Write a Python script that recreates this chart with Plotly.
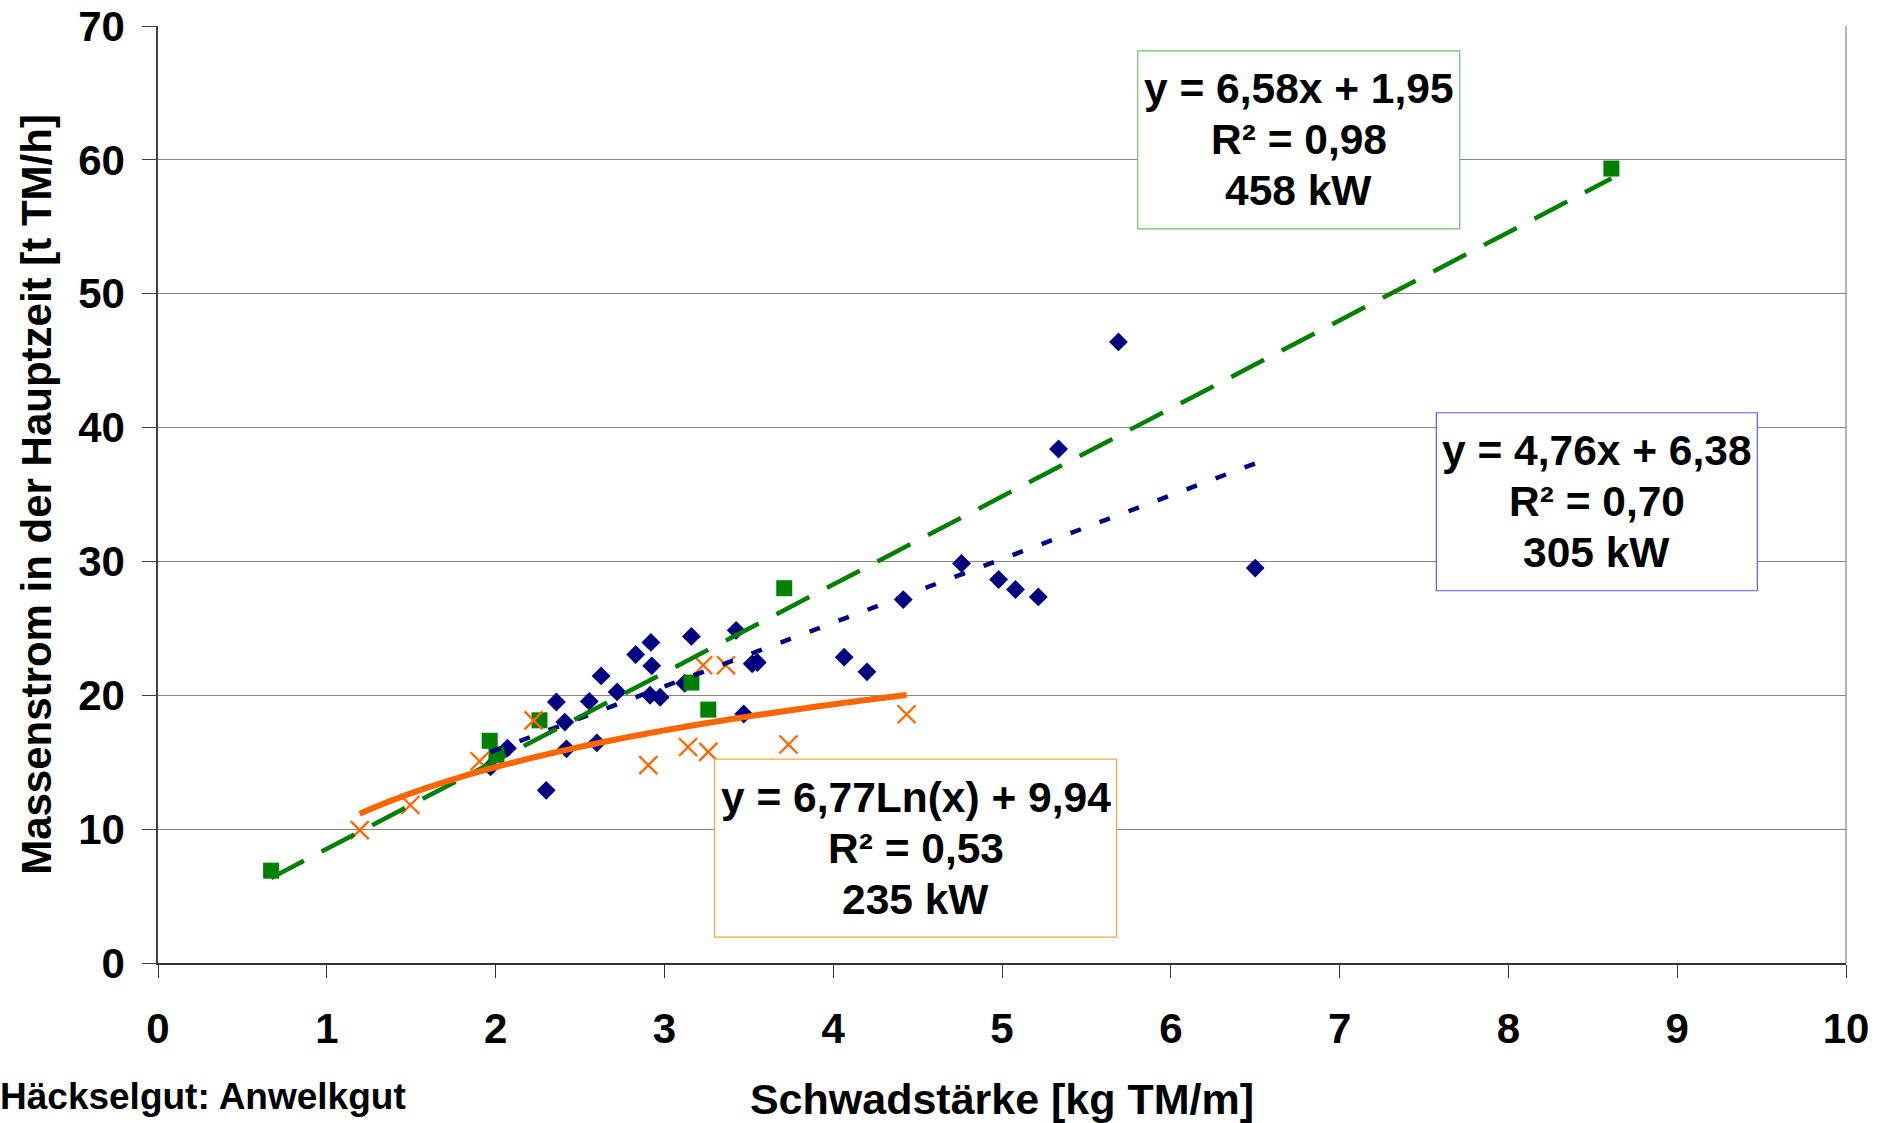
import numpy as np
import plotly.graph_objects as go

# Schwadstärke [kg TM/m] und Massenstrom [t TM/h] je Häcksler-Leistungsklasse
x_305 = [1.97, 2.07, 2.30, 2.36, 2.41, 2.42, 2.555, 2.60, 2.625, 2.72,
         2.83, 2.92, 2.925, 2.915, 2.975, 3.12, 3.16, 3.425, 3.47, 3.52,
         3.55, 4.065, 4.20, 4.415, 4.76, 4.98, 5.08, 5.215, 5.335, 5.69, 6.50]
y_305 = [14.65, 16.05, 12.9, 19.5, 18.0, 16.0, 19.55, 16.45, 21.45, 20.25,
         23.05, 23.95, 22.2, 20.0, 19.85, 20.9, 24.4, 24.85, 18.6, 22.35,
         22.45, 22.85, 21.75, 27.15, 29.85, 28.65, 27.9, 27.35, 38.4, 46.4, 29.5]

x_458 = [0.67, 1.965, 2.005, 2.26, 3.16, 3.26, 3.71, 8.61]
y_458 = [6.9, 16.6, 15.55, 18.13, 20.95, 18.93, 28.0, 59.35]

x_235 = [1.195, 1.495, 1.905, 2.225, 2.905, 3.14, 3.26, 3.23, 3.365, 3.735, 4.435]
y_235 = [9.93, 11.8, 15.07, 18.13, 14.78, 16.14, 15.77, 22.24, 22.24, 16.32, 18.58]

# Trendlinien (Koeffizienten wie in den Beschriftungen)
fit_458 = (6.58, 1.95, 0.98)   # linear
fit_305 = (4.76, 6.38, 0.70)   # linear
fit_235 = (6.77, 9.94, 0.53)   # logarithmisch

x_ticks = list(range(0, 11))
y_ticks = list(range(0, 71, 10))

FONT = "Liberation Sans, Arial, sans-serif"
NAVY = "#000080"
GREEN = "#008000"
ORANGE = "#FF6600"
GRID = "#868686"

W, H = 1893, 1123
M = dict(l=158, r=47, t=26, b=160)
X_RANGE = (0, 10)
Y_RANGE = (0, 70)
PX_X = (W - M["l"] - M["r"]) / (X_RANGE[1] - X_RANGE[0])
PX_Y = (H - M["t"] - M["b"]) / (Y_RANGE[1] - Y_RANGE[0])


def de(v):
    return f"{v:.2f}".replace(".", ",")


fig = go.Figure()

# Messpunkte
fig.add_trace(go.Scatter(
    x=x_305, y=y_305, mode="markers", name="305 kW",
    marker=dict(symbol="diamond", size=14.5, color=NAVY, line=dict(width=0)),
))
fig.add_trace(go.Scatter(
    x=x_458, y=y_458, mode="markers", name="458 kW",
    marker=dict(symbol="square", size=16, color=GREEN, line=dict(width=0)),
))
fig.add_trace(go.Scatter(
    x=x_235, y=y_235, mode="markers", name="235 kW",
    marker=dict(symbol="x-thin-open", size=18, color=ORANGE,
                line=dict(width=2.3, color=ORANGE)),
))

# Trendlinien über den Wertebereich der jeweiligen Reihe
tx = np.linspace(min(x_305), max(x_305), 50)
fig.add_trace(go.Scatter(
    x=tx, y=fit_305[0] * tx + fit_305[1], mode="lines",
    line=dict(color=NAVY, width=4.5, dash="11px,20px"),
))
tx = np.linspace(min(x_458), max(x_458), 50)
fig.add_trace(go.Scatter(
    x=tx, y=fit_458[0] * tx + fit_458[1], mode="lines",
    line=dict(color=GREEN, width=4.5, dash="37px,20px"),
))
tx = np.linspace(min(x_235), max(x_235), 80)
fig.add_trace(go.Scatter(
    x=tx, y=fit_235[0] * np.log(tx) + fit_235[1], mode="lines",
    line=dict(color=ORANGE, width=6, shape="spline"),
))

# Beschriftungsfelder der Trendlinien: Mitte (Datenkoordinaten), Größe in px
box_font = dict(family=FONT, size=42.5, color="black")
LINE_GAP = 51
labels = [
    ([f"y = {de(fit_458[0])}x + {de(fit_458[1])}", f"R² = {de(fit_458[2])}", "458 kW"],
     6.758, 61.49, 322, 178, "#6DBF6D"),
    ([f"y = {de(fit_305[0])}x + {de(fit_305[1])}", f"R² = {de(fit_305[2])}", "305 kW"],
     8.524, 34.46, 321, 178, "#5A5AFF"),
    ([f"y = {de(fit_235[0])}Ln(x) + {de(fit_235[1])}", f"R² = {de(fit_235[2])}", "235 kW"],
     4.488, 8.58, 402, 178, "#FFA533"),
]
annotations = []
shapes = [dict(type="line", xref="paper", yref="paper", x0=1, x1=1, y0=0, y1=1,
               line=dict(color=GRID, width=1.2))]
for lines, cx, cy, bw, bh, bc in labels:
    shapes.append(dict(
        type="rect", xref="x", yref="y", layer="above",
        x0=cx - bw / 2 / PX_X, x1=cx + bw / 2 / PX_X,
        y0=cy - bh / 2 / PX_Y, y1=cy + bh / 2 / PX_Y,
        fillcolor="white", line=dict(color=bc, width=1.2),
    ))
    for i, line in enumerate(lines):
        annotations.append(dict(
            text=f"<b>{line}</b>", x=cx, y=cy, xref="x", yref="y",
            yshift=(1 - i) * LINE_GAP,
            xanchor="center", yanchor="middle", showarrow=False,
            font=box_font, align="center",
        ))
annotations.append(dict(
    text="<b>Häckselgut: Anwelkgut</b>", xref="paper", yref="paper",
    x=-0.0945, y=-0.143, xanchor="left", yanchor="middle", showarrow=False,
    font=dict(family=FONT, size=37, color="black"),
))

fig.update_layout(
    width=W, height=H,
    margin=M,
    paper_bgcolor="white", plot_bgcolor="white",
    showlegend=False,
    font=dict(family=FONT, color="black"),
    annotations=annotations,
    shapes=shapes,
)
fig.update_xaxes(
    range=list(X_RANGE), tickvals=x_ticks, ticktext=[f"<b>{v}</b>" for v in x_ticks],
    automargin=False,
    showgrid=False, zeroline=False, showline=True, linecolor="#333333", linewidth=2,
    ticks="outside", ticklen=13, tickcolor="#333333", tickwidth=1.2,
    tickfont=dict(family=FONT, size=42, color="black"), ticklabelstandoff=15,
    title=dict(text="<b>Schwadstärke [kg TM/m]</b>", standoff=35,
               font=dict(family=FONT, size=43, color="black")),
)
fig.update_yaxes(
    range=list(Y_RANGE), tickvals=y_ticks, ticktext=[f"<b>{v}</b>" for v in y_ticks],
    automargin=False,
    showgrid=True, gridcolor=GRID, gridwidth=1.2, zeroline=False,
    showline=True, linecolor="#404040", linewidth=1.5,
    ticks="outside", ticklen=14, tickcolor="#404040", tickwidth=1.2,
    tickfont=dict(family=FONT, size=42, color="black"), ticklabelstandoff=9,
    title=dict(text="<b>Massenstrom in der Hauptzeit [t TM/h]</b>", standoff=13,
               font=dict(family=FONT, size=42, color="black")),
)

fig.write_html("out.html")
